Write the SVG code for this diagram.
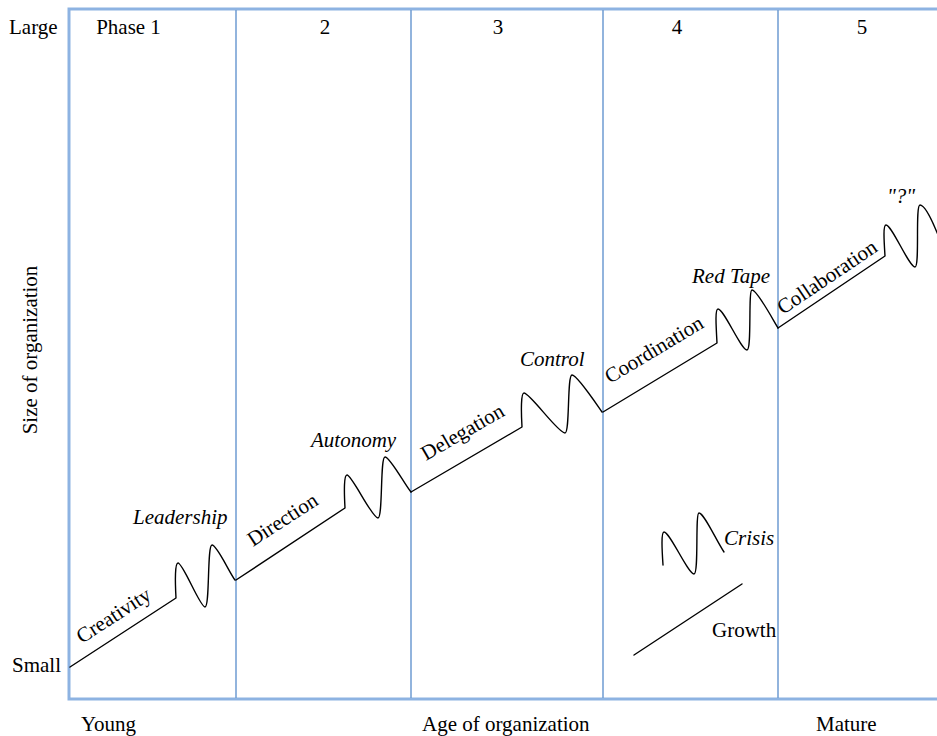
<svg xmlns="http://www.w3.org/2000/svg" width="937" height="736" viewBox="0 0 937 736">
<style>
text{font-family:"Liberation Serif","Times New Roman",serif;font-size:21px;fill:#000}
.it{font-style:italic}
.frame{fill:none;stroke:#8db3e2;stroke-width:3}
.div{stroke:#6e9bd2;stroke-width:1.5}
.c{fill:none;stroke:#000;stroke-width:1.4;stroke-linejoin:round;stroke-linecap:round}
</style>
<rect width="937" height="736" fill="#fff"/>
<g id="frame">
<path class="frame" d="M940,9 H69 V699 H940"/>
<line class="div" x1="236" y1="10" x2="236" y2="698"/>
<line class="div" x1="411" y1="10" x2="411" y2="698"/>
<line class="div" x1="603" y1="10" x2="603" y2="698"/>
<line class="div" x1="778" y1="10" x2="778" y2="698"/>
</g>
<g id="axis-labels">
<text x="9" y="34">Large</text>
<text x="12" y="672">Small</text>
<text x="81" y="731">Young</text>
<text x="422" y="731">Age of organization</text>
<text x="816" y="731">Mature</text>
<text transform="translate(37,350) rotate(-90)" text-anchor="middle">Size of organization</text>
</g>
<g id="phase-labels" text-anchor="middle">
<text x="128.5" y="34">Phase 1</text>
<text x="325" y="34">2</text>
<text x="498" y="34">3</text>
<text x="677" y="34">4</text>
<text x="862" y="34">5</text>
</g>
<g id="connectors">
<g id="phase1">
<path class="c" d="M70,667 L176,598 C175,580 175,563 178,563 C183,563 200,607 205,607 C210,607 207,545 212,545 C217,545 229,572 235,580"/>
<text transform="translate(82,644) rotate(-33)">Creativity</text>
<text class="it" x="133" y="524">Leadership</text>
</g>
<g id="phase2">
<path class="c" d="M236,580 L345,508 C344,490 344,475 347,475 C352,475 372,518 378,518 C383,518 380,457 385,457 C390,457 405,485 411,492"/>
<text transform="translate(253,547) rotate(-33)">Direction</text>
<text class="it" x="311" y="447">Autonomy</text>
</g>
<g id="phase3">
<path class="c" d="M411,492 L522,427 C521,410 521,393 524,393 C530,393 558,433 565,433 C570,433 567,375 572,375 C577,375 595,402 602,412"/>
<text transform="translate(426,461) rotate(-30)">Delegation</text>
<text class="it" x="520" y="366">Control</text>
</g>
<g id="phase4">
<path class="c" d="M603,412 L717,343 C716,325 715,309 718,309 C724,309 741,350 747,350 C752,350 748,290 752,290 C757,290 772,318 778,328"/>
<text transform="translate(610,384) rotate(-31)">Coordination</text>
<text class="it" x="692" y="283">Red Tape</text>
</g>
<g id="phase5">
<path class="c" d="M778,328 L885,256 C884,240 883,225 886,225 C892,225 909,267 915,267 C920,267 915,205 920,205 C925,205 933,222 940,240"/>
<text transform="translate(783,315) rotate(-34)">Collaboration</text>
<text class="it" x="887" y="203">"?"</text>
</g>
</g>
<g id="legend">
<path class="c" d="M663,565 C662,550 661,532 664,532 C670,532 688,574 694,574 C699,574 695,513 699,513 C704,513 716,540 724,552"/>
<text class="it" x="724" y="545">Crisis</text>
<line class="c" x1="634" y1="655" x2="742" y2="584"/>
<text x="712" y="637">Growth</text>
</g>
</svg>
